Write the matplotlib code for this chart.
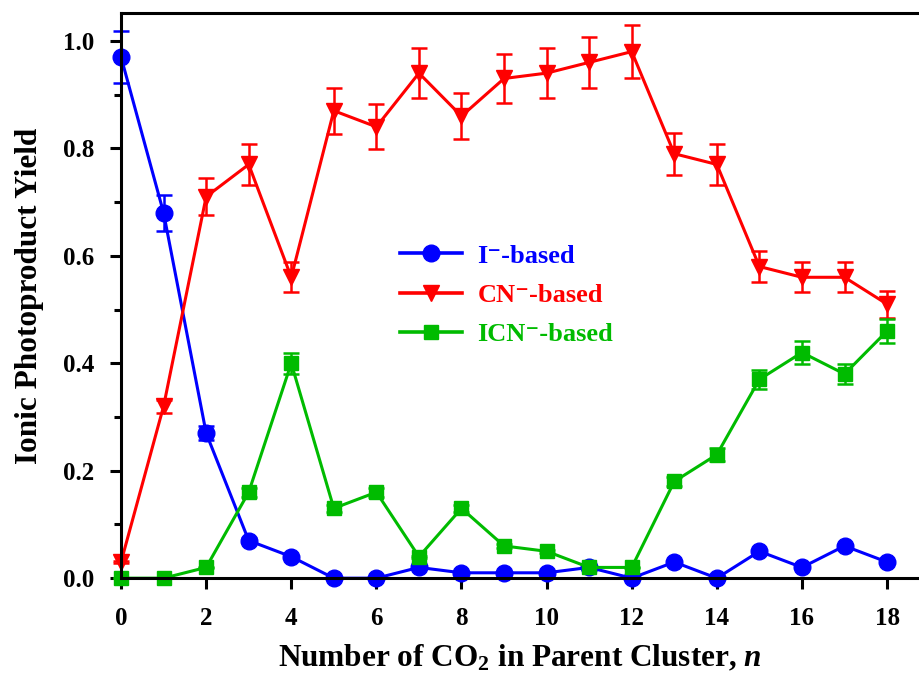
import matplotlib
matplotlib.use('Agg')
import matplotlib.pyplot as plt
import numpy as np
from matplotlib.ticker import MultipleLocator, FormatStrFormatter
from matplotlib.lines import Line2D

plt.rcParams['font.family'] = ['Liberation Serif', 'DejaVu Serif']
plt.rcParams['font.weight'] = 'bold'
plt.rcParams['mathtext.fontset'] = 'custom'
plt.rcParams['mathtext.rm'] = 'Liberation Serif:bold'
plt.rcParams['mathtext.bf'] = 'Liberation Serif:bold'
plt.rcParams['mathtext.it'] = 'Liberation Serif:bold:italic'

# number of CO2 in the parent cluster
n_co2 = np.arange(0, 19)

# I- based yield
i_yield = [0.97, 0.68, 0.27, 0.07, 0.04, 0.0, 0.0, 0.02, 0.01, 0.01,
           0.01, 0.02, 0.0, 0.03, 0.0, 0.05, 0.02, 0.06, 0.03]
i_err = [0.048, 0.034, 0.013, 0.004, 0.002, 0.0, 0.0, 0.001, 0.001, 0.001,
         0.001, 0.001, 0.0, 0.002, 0.0, 0.003, 0.001, 0.003, 0.002]

# CN- based yield
cn_yield = [0.03, 0.32, 0.71, 0.77, 0.56, 0.87, 0.84, 0.94, 0.86, 0.93,
            0.94, 0.96, 0.98, 0.79, 0.77, 0.58, 0.56, 0.56, 0.51]
cn_err = [0.002, 0.012, 0.035, 0.038, 0.028, 0.043, 0.042, 0.047, 0.043, 0.046,
          0.047, 0.048, 0.049, 0.039, 0.038, 0.029, 0.028, 0.028, 0.025]

# ICN- based yield
icn_yield = [0.0, 0.0, 0.02, 0.16, 0.40, 0.13, 0.16, 0.04, 0.13, 0.06,
             0.05, 0.02, 0.02, 0.18, 0.23, 0.37, 0.42, 0.38, 0.46]
icn_err = [0.0, 0.0, 0.001, 0.008, 0.02, 0.007, 0.008, 0.002, 0.007, 0.003,
           0.003, 0.001, 0.001, 0.009, 0.012, 0.018, 0.021, 0.019, 0.023]

blue = '#0000ff'
red = '#ff0000'
green = '#00bb00'

fig = plt.figure(figsize=(9.19, 6.81), dpi=100)
ax = fig.add_axes([0.1317, 0.151, 0.8683, 0.830])

series = [
    (i_yield, i_err, blue, 'o', 12, 'I\u207b-based'),
    (cn_yield, cn_err, red, 'v', 12, 'CN\u207b-based'),
    (icn_yield, icn_err, green, 's', 10, 'ICN\u207b-based'),
]
handles = []
for vals, errs, col, mk, ms, lab in series:
    cont = ax.errorbar(n_co2, vals, yerr=errs, color=col, marker=mk, markersize=ms,
                       linewidth=2.2, elinewidth=1.8, capsize=6, capthick=1.8,
                       clip_on=False)
    for artist in cont.lines[1] + cont.lines[2]:
        artist.set_clip_on(False)
    cont.lines[0].set_clip_on(False)
    handles.append(Line2D([], [], color=col, marker=mk, markersize=ms,
                          linewidth=2.6, label=lab))

ax.set_xlim(0, 18.75)
ax.set_ylim(0, 1.052)
ax.xaxis.set_major_locator(MultipleLocator(2))
ax.yaxis.set_major_locator(MultipleLocator(0.2))
ax.yaxis.set_minor_locator(MultipleLocator(0.1))
ax.yaxis.set_major_formatter(FormatStrFormatter('%.1f'))

ax.spines['right'].set_visible(False)
for s in ['left', 'bottom', 'top']:
    ax.spines[s].set_linewidth(2.2)
ax.tick_params(axis='both', which='major', direction='out', length=8, width=2.2,
               labelsize=18)
ax.tick_params(axis='y', which='minor', direction='out', length=5, width=2.2)
ax.tick_params(axis='x', pad=13)
ax.tick_params(axis='y', pad=11)

ax.set_xlabel(r'Number of CO$_{2}$ in Parent Cluster, $\mathit{n}$',
              fontsize=22.5, fontweight='bold', labelpad=9)
ax.set_ylabel('Ionic Photoproduct Yield', fontsize=22.5, fontweight='bold', labelpad=14)

leg = ax.legend(handles=handles, loc='upper left', bbox_to_anchor=(0.349, 0.591),
                frameon=False, handlelength=2.35, handletextpad=0.6,
                labelspacing=0.6, borderpad=0, borderaxespad=0,
                prop={'weight': 'bold', 'size': 19})
for txt, h in zip(leg.get_texts(), handles):
    txt.set_color(h.get_color())

fig.savefig('out.png', dpi=100)
